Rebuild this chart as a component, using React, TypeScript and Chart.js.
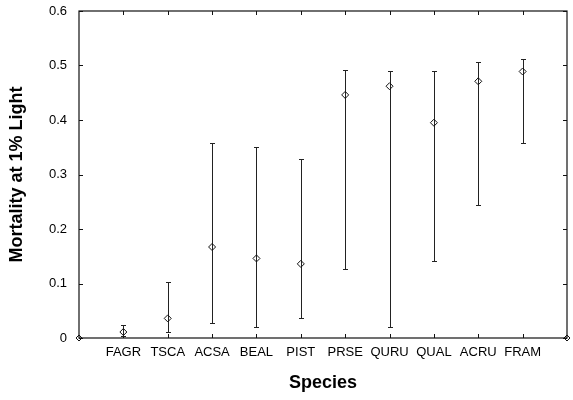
import React, { useEffect, useRef } from "react";
import { Chart, registerables } from "chart.js";

Chart.register(...registerables);

const categories = ["FAGR", "TSCA", "ACSA", "BEAL", "PIST", "PRSE", "QURU", "QUAL", "ACRU", "FRAM"];
const means = [0.011, 0.036, 0.167, 0.146, 0.136, 0.446, 0.462, 0.395, 0.471, 0.489];
const lower = [0.003, 0.011, 0.028, 0.02, 0.037, 0.127, 0.021, 0.142, 0.244, 0.357];
const upper = [0.023, 0.102, 0.357, 0.351, 0.329, 0.492, 0.489, 0.489, 0.506, 0.512];
const endX = [0, 11];
const endY = [0, 0];
const yTickValues = [0, 0.1, 0.2, 0.3, 0.4, 0.5, 0.6];
const xMin = 0;
const xMax = 11;

const FONT = "'Liberation Sans', Arial, Helvetica, sans-serif";

const framePlugin = {
  id: "frameAndErrors",
  beforeDatasetsDraw(chart: any) {
    const { ctx, chartArea } = chart;
    const xs = chart.scales.x;
    const ys = chart.scales.y;
    const { left, right, top, bottom } = chartArea;
    ctx.save();
    ctx.strokeStyle = "#111";
    ctx.lineWidth = 1.2;
    ctx.strokeRect(left, top, right - left, bottom - top);
    const tl = 4;
    ctx.lineWidth = 1;
    ctx.beginPath();
    categories.forEach((_, i) => {
      const px = Math.round(xs.getPixelForValue(i + 1)) + 0.5;
      ctx.moveTo(px, bottom);
      ctx.lineTo(px, bottom - tl);
      ctx.moveTo(px, top);
      ctx.lineTo(px, top + tl);
    });
    yTickValues.forEach((v) => {
      const py = Math.round(ys.getPixelForValue(v)) + 0.5;
      ctx.moveTo(left, py);
      ctx.lineTo(left + tl, py);
      ctx.moveTo(right, py);
      ctx.lineTo(right - tl, py);
    });
    ctx.stroke();
    // error bars
    ctx.strokeStyle = "#222";
    ctx.lineWidth = 1;
    ctx.beginPath();
    categories.forEach((_, i) => {
      const px = Math.round(xs.getPixelForValue(i + 1)) + 0.5;
      const yl = Math.round(ys.getPixelForValue(lower[i])) + 0.5;
      const yu = Math.round(ys.getPixelForValue(upper[i])) + 0.5;
      ctx.moveTo(px, yl);
      ctx.lineTo(px, yu);
      ctx.moveTo(px - 2.5, yl);
      ctx.lineTo(px + 2.5, yl);
      ctx.moveTo(px - 2.5, yu);
      ctx.lineTo(px + 2.5, yu);
    });
    ctx.stroke();
    ctx.restore();
  },
};

export default function App() {
  const ref = useRef<HTMLCanvasElement | null>(null);
  useEffect(() => {
    document.body.style.margin = "0";
    const canvas = ref.current;
    if (!canvas) return;
    const chart = new Chart(canvas, {
      type: "scatter",
      data: {
        datasets: [
          {
            label: "Mortality",
            data: means.map((m, i) => ({ x: i + 1, y: m })),
            pointStyle: "rectRot",
            pointRadius: 3.5,
            pointBackgroundColor: "rgba(0,0,0,0)",
            pointBorderColor: "#111",
            pointBorderWidth: 1,
            showLine: false,
          },
          {
            label: "ends",
            data: endX.map((x, i) => ({ x, y: endY[i] })),
            pointStyle: "rectRot",
            pointRadius: 3,
            pointBackgroundColor: "rgba(0,0,0,0)",
            pointBorderColor: "#111",
            pointBorderWidth: 1,
            showLine: false,
            clip: false,
          },
        ],
      },
      options: {
        animation: false,
        responsive: false,
        maintainAspectRatio: false,
        layout: { padding: { top: 11, right: 6, left: 0, bottom: 0 } },
        plugins: { legend: { display: false }, tooltip: { enabled: false } },
        scales: {
          x: {
            type: "linear",
            min: xMin,
            max: xMax,
            grid: { display: false, drawTicks: false },
            border: { display: false },
            afterBuildTicks: (scale: any) => {
              scale.ticks = categories.map((_, i) => ({ value: i + 1 }));
            },
            afterFit: (scale: any) => {
              scale.height = 62;
              scale.paddingLeft = 0;
              scale.paddingRight = 0;
            },
            ticks: {
              autoSkip: false,
              maxRotation: 0,
              padding: 7,
              color: "#000",
              font: { family: FONT, size: 13 },
              callback: (v: any) => categories[Number(v) - 1] ?? "",
            },
            title: {
              display: true,
              text: "Species",
              color: "#000",
              font: { family: FONT, size: 18, weight: "bold" },
              padding: { top: 0, bottom: 6 },
            },
          },
          y: {
            type: "linear",
            min: 0,
            max: 0.6,
            grid: { display: false, drawTicks: false },
            border: { display: false },
            afterBuildTicks: (scale: any) => {
              scale.ticks = yTickValues.map((v) => ({ value: v }));
            },
            afterFit: (scale: any) => {
              scale.width = 79;
              scale.paddingTop = 0;
              scale.paddingBottom = 0;
            },
            ticks: {
              padding: 12,
              color: "#000",
              font: { family: FONT, size: 13 },
              callback: (v: any) => (Number(v) === 0 ? "0" : Number(v).toFixed(1)),
            },
            title: {
              display: true,
              text: "Mortality at 1% Light",
              color: "#000",
              font: { family: FONT, size: 18, weight: "bold" },
              padding: { top: 6, bottom: 0 },
            },
          },
        },
      },
      plugins: [framePlugin],
    });
    return () => chart.destroy();
  }, []);
  return (
    <div style={{ position: "relative", width: 573, height: 400, background: "#fff" }}>
      <canvas ref={ref} width={573} height={400} style={{ display: "block" }} />
    </div>
  );
}
